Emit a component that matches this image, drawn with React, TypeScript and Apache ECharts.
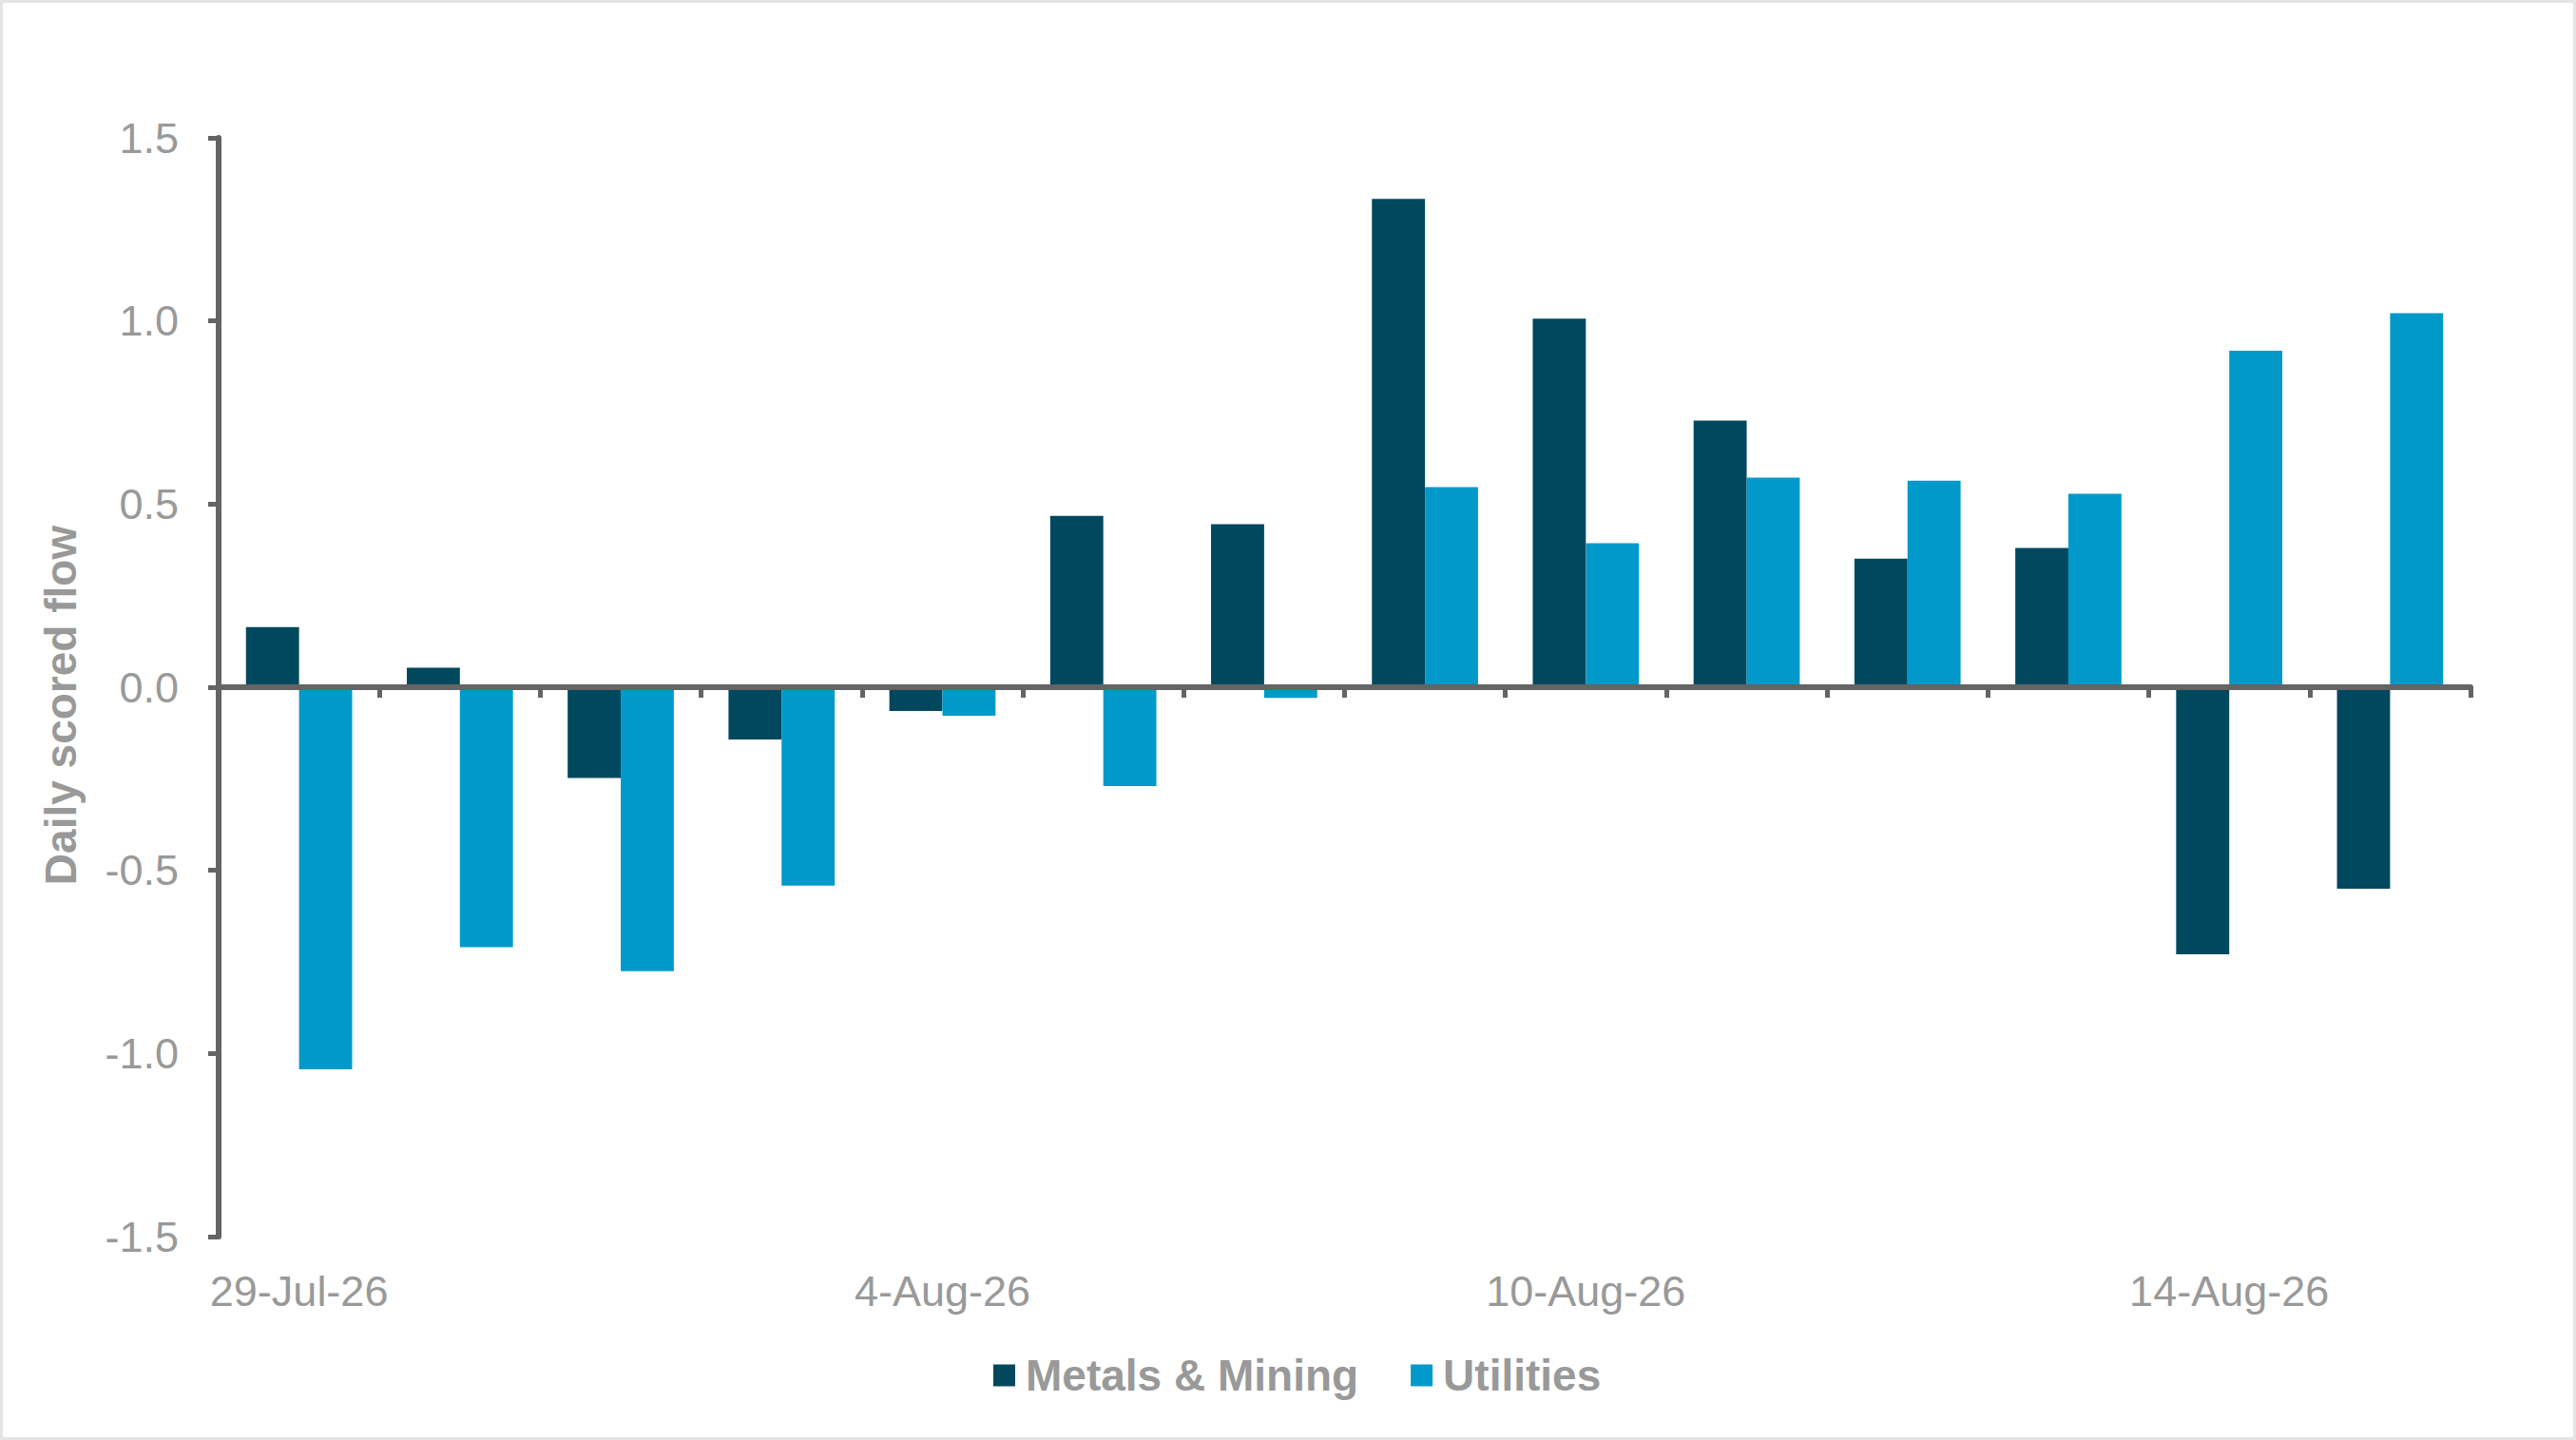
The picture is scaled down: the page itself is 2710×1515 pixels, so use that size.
import { useEffect, useRef } from 'react';
import * as echarts from 'echarts';

const categories = [
  '29-Jul-26', '30-Jul-26', '31-Jul-26', '3-Aug-26', '4-Aug-26', '5-Aug-26', '6-Aug-26',
  '7-Aug-26', '10-Aug-26', '11-Aug-26', '12-Aug-26', '13-Aug-26', '14-Aug-26', '17-Aug-26',
];
const metalsMining = [0.164, 0.053, -0.248, -0.143, -0.065, 0.468, 0.445, 1.333, 1.006, 0.728, 0.351, 0.38, -0.729, -0.55];
const utilities = [-1.043, -0.71, -0.775, -0.542, -0.078, -0.27, -0.029, 0.546, 0.393, 0.572, 0.564, 0.528, 0.919, 1.021];

const WIDTH = 2710;
const HEIGHT = 1515;
const FONT = 'Liberation Sans, Arial, sans-serif';
const GREY = '#999999';
const AXIS = '#646464';

export default function App() {
  const chartRef = useRef<HTMLDivElement | null>(null);

  useEffect(() => {
    if (!chartRef.current) return;
    const chart = echarts.init(chartRef.current, null, { renderer: 'svg' });

    chart.setOption({
      animation: false,
      backgroundColor: '#ffffff',
      grid: { left: 230, right: 111, top: 145, bottom: 214, containLabel: false },
      legend: {
        left: 1040,
        top: 1419,
        itemWidth: 23,
        itemHeight: 23,
        itemGap: 55,
        icon: 'rect',
        textStyle: {
          color: GREY,
          fontSize: 46,
          fontWeight: 'bold',
          fontFamily: FONT,
          padding: [0, 0, 0, 6],
        },
        data: ['Metals & Mining', 'Utilities'],
      },
      xAxis: [
        {
          type: 'category',
          data: categories,
          position: 'bottom',
          z: 5,
          axisLine: { onZero: true, lineStyle: { color: AXIS, width: 6 } },
          axisTick: { show: true, interval: 0, length: 11, lineStyle: { color: AXIS, width: 5 } },
          axisLabel: { show: false },
          splitLine: { show: false },
        },
        {
          type: 'category',
          data: categories,
          position: 'bottom',
          axisLine: { show: false, onZero: false },
          axisTick: { show: false },
          axisLabel: {
            interval: 3,
            margin: 35,
            color: GREY,
            fontSize: 45,
            fontFamily: FONT,
          },
          splitLine: { show: false },
        },
      ],
      yAxis: {
        type: 'value',
        min: -1.5,
        max: 1.5,
        interval: 0.5,
        z: 5,
        axisLine: { show: true, lineStyle: { color: AXIS, width: 6 } },
        axisTick: { show: true, length: 11, lineStyle: { color: AXIS, width: 5 } },
        axisLabel: {
          margin: 42,
          color: GREY,
          fontSize: 45,
          fontFamily: FONT,
          formatter: (v: number) => v.toFixed(1),
        },
        splitLine: { show: false },
      },
      graphic: [
        {
          type: 'rect',
          silent: true,
          shape: { x: 1.5, y: 1.5, width: WIDTH - 3, height: HEIGHT - 3 },
          style: { fill: 'none', stroke: '#e4e4e4', lineWidth: 3 },
        },
        {
          type: 'text',
          x: 64,
          y: 742,
          rotation: Math.PI / 2,
          style: {
            text: 'Daily scored flow',
            fill: GREY,
            font: `bold 46px ${FONT}`,
            textAlign: 'center',
            textVerticalAlign: 'middle',
          },
        },
      ],
      series: [
        {
          name: 'Metals & Mining',
          type: 'bar',
          data: metalsMining,
          barGap: '0%',
          barCategoryGap: '34%',
          itemStyle: { color: '#00485E' },
        },
        {
          name: 'Utilities',
          type: 'bar',
          data: utilities,
          barGap: '0%',
          barCategoryGap: '34%',
          itemStyle: { color: '#0099C9' },
        },
      ],
    });

    return () => {
      chart.dispose();
    };
  }, []);

  return (
    <div
      ref={chartRef}
      style={{ position: 'fixed', left: 0, top: 0, width: WIDTH, height: HEIGHT }}
    />
  );
}
